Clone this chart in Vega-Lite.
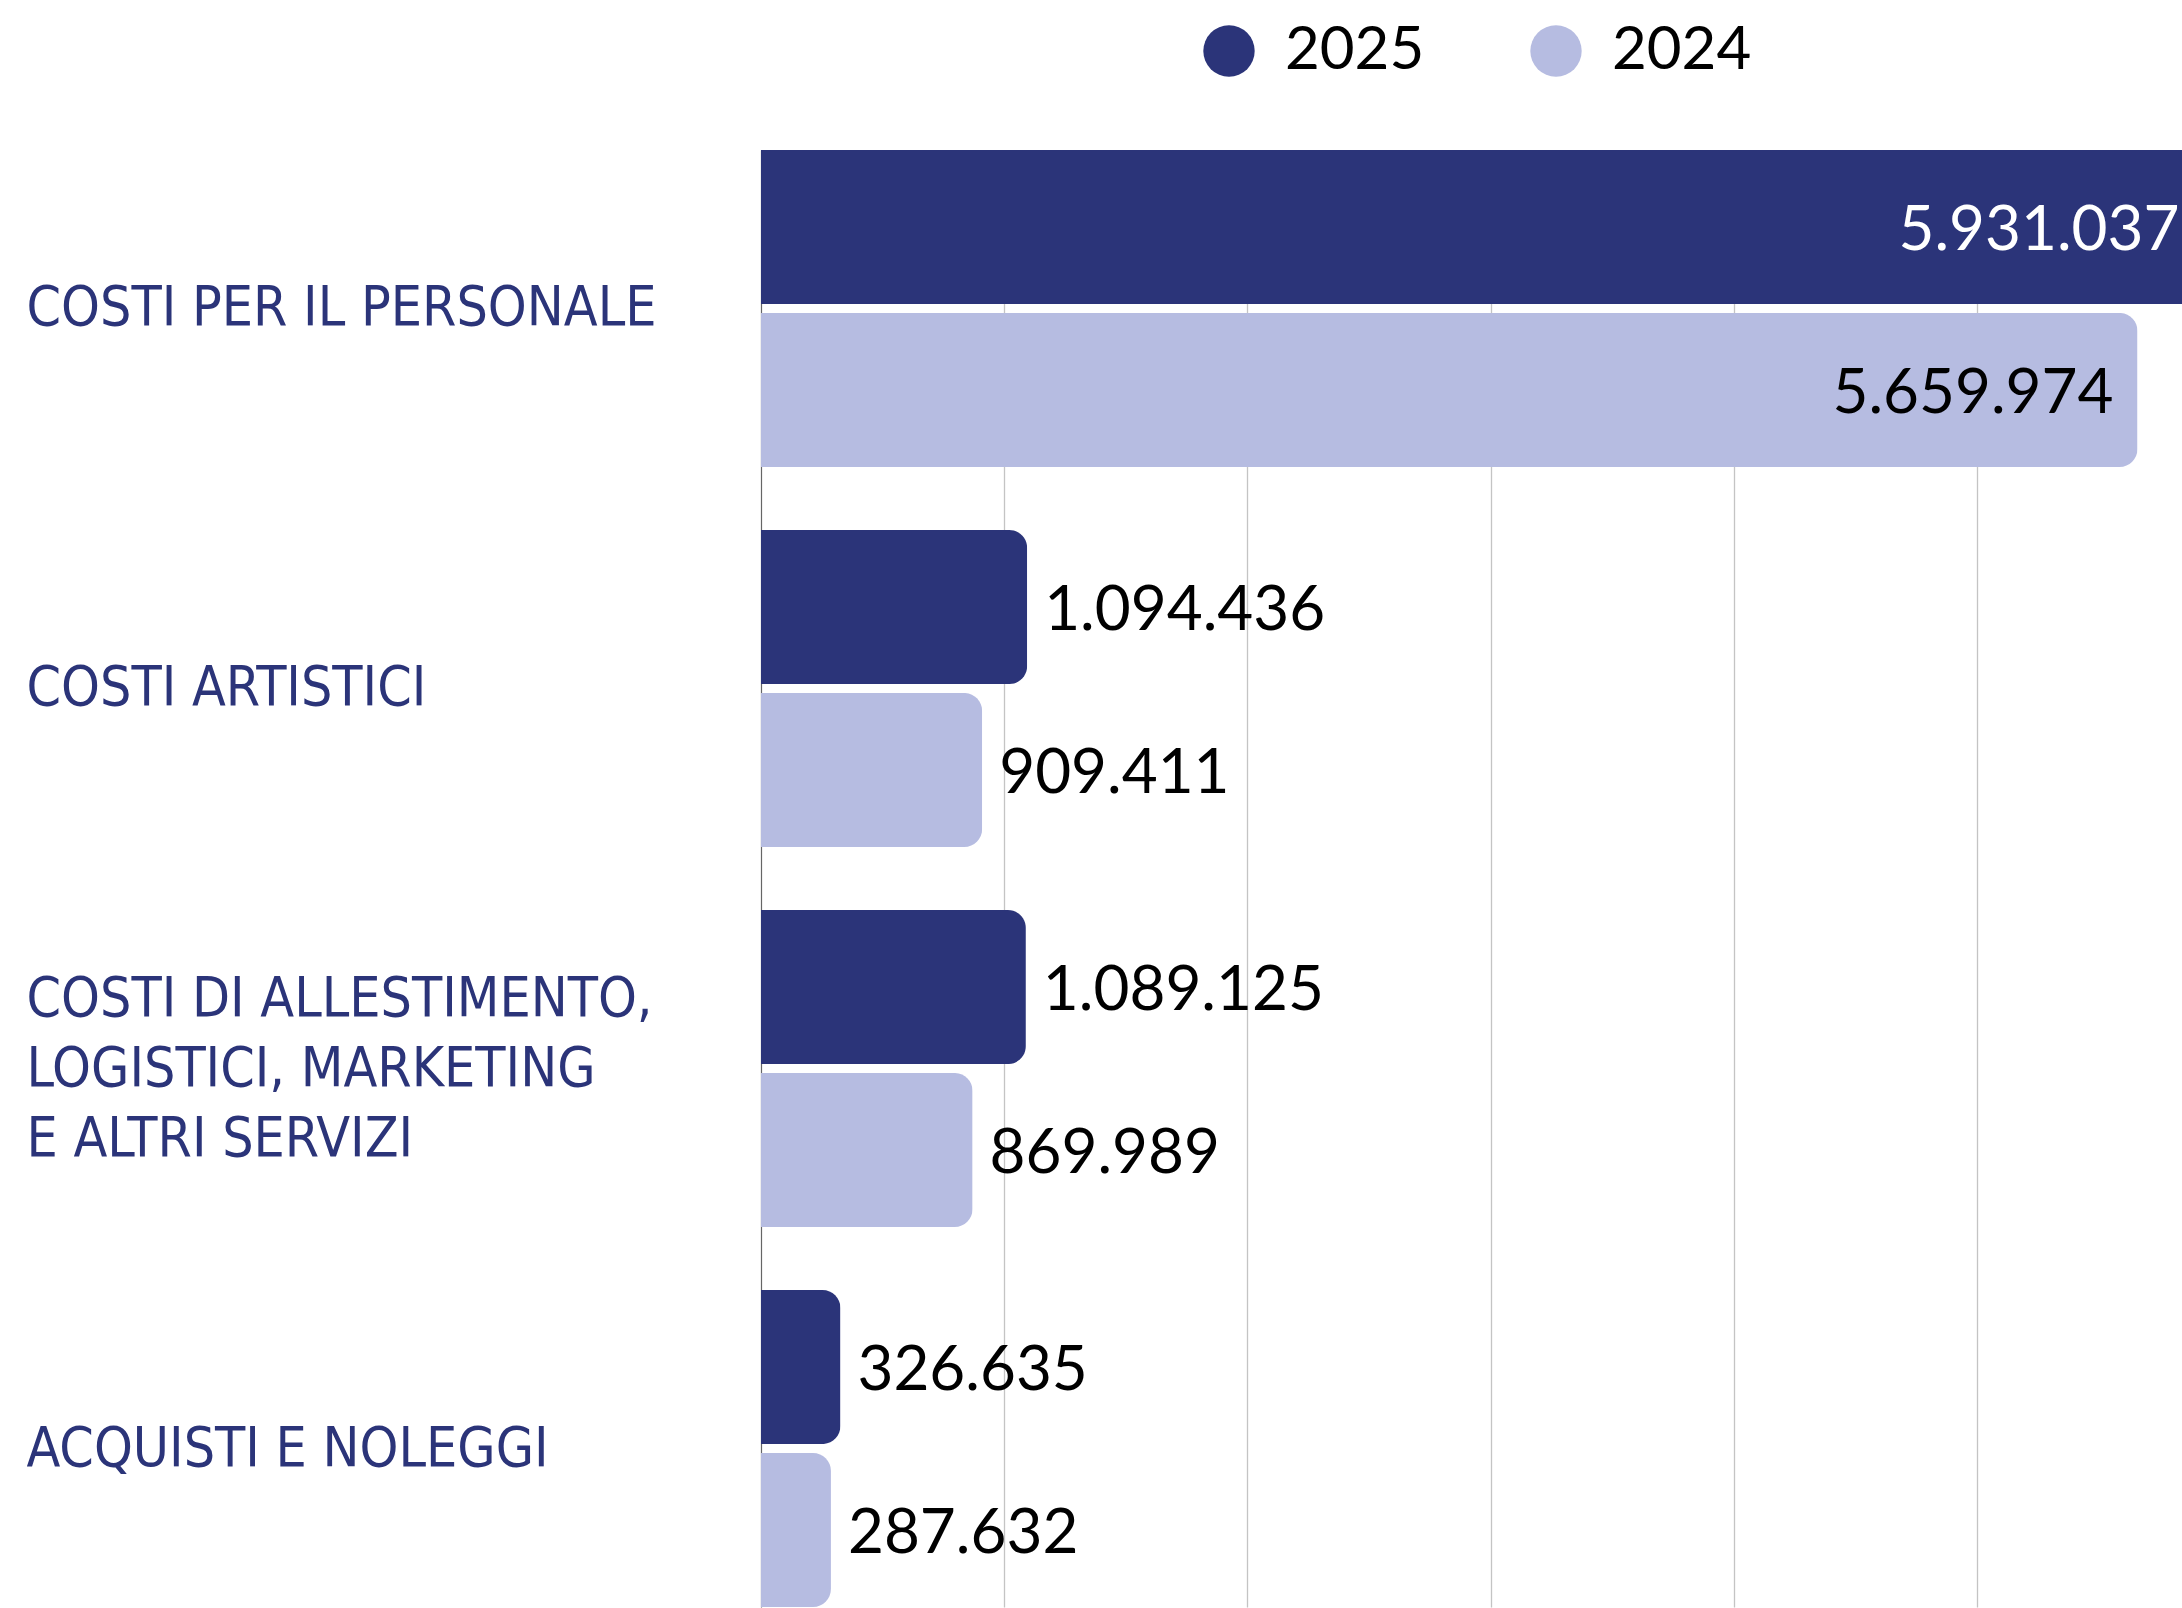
{
  "$schema": "https://vega.github.io/schema/vega-lite/v6.json",
  "autosize": {"type": "none"},
  "padding": {"left": 761, "top": 150, "right": 0, "bottom": 1},
  "width": 1421,
  "height": 1457,
  "background": "white",
  "config": {
    "view": {"stroke": null},
    "locale": {"number": {"decimal": ",", "thousands": ".", "grouping": [3], "currency": ["€", ""]}}
  },
  "data": {
    "values": [
      {"categoria": "COSTI PER IL PERSONALE", "anno": "2025", "valore": 5931037},
      {"categoria": "COSTI PER IL PERSONALE", "anno": "2024", "valore": 5659974},
      {"categoria": "COSTI ARTISTICI", "anno": "2025", "valore": 1094436},
      {"categoria": "COSTI ARTISTICI", "anno": "2024", "valore": 909411},
      {"categoria": "COSTI DI ALLESTIMENTO,|LOGISTICI, MARKETING|E ALTRI SERVIZI", "anno": "2025", "valore": 1089125},
      {"categoria": "COSTI DI ALLESTIMENTO,|LOGISTICI, MARKETING|E ALTRI SERVIZI", "anno": "2024", "valore": 869989},
      {"categoria": "ACQUISTI E NOLEGGI", "anno": "2025", "valore": 326635},
      {"categoria": "ACQUISTI E NOLEGGI", "anno": "2024", "valore": 287632}
    ]
  },
  "encoding": {
    "y": {
      "field": "categoria",
      "type": "nominal",
      "sort": ["COSTI PER IL PERSONALE", "COSTI ARTISTICI", "COSTI DI ALLESTIMENTO,|LOGISTICI, MARKETING|E ALTRI SERVIZI", "ACQUISTI E NOLEGGI"],
      "scale": {"paddingInner": 0.166, "paddingOuter": 0},
      "axis": {
        "title": null,
        "ticks": false,
        "tickSize": 0,
        "labelAlign": "left",
        "labelBaseline": "middle",
        "labelPadding": 735,
        "labelLimit": 900,
        "labelFont": "'DejaVu Sans Condensed', 'Roboto Condensed', 'Open Sans Condensed', Roboto",
        "labelFontSize": 55,
        "labelColor": "#2b3479",
        "labelLineHeight": 70,
        "labelOffset": {"condition": {"test": "indexof(datum.value, '|') >= 0", "value": -70}, "value": 0},
        "labelExpr": "split(datum.label, '|')",
        "domainColor": "#666666",
        "domainWidth": 1.2,
        "grid": false
      }
    },
    "yOffset": {
      "field": "anno",
      "type": "nominal",
      "sort": ["2025", "2024"],
      "scale": {"paddingInner": 0.055, "paddingOuter": 0}
    },
    "x": {
      "field": "valore",
      "type": "quantitative",
      "scale": {"domain": [0, 5843000], "nice": false},
      "axis": {
        "title": null,
        "labels": false,
        "ticks": false,
        "domain": false,
        "grid": true,
        "gridColor": "#c4c4c4",
        "gridWidth": 1.3,
        "values": [1000000, 2000000, 3000000, 4000000, 5000000]
      }
    }
  },
  "layer": [
    {
      "mark": {"type": "bar", "cornerRadiusEnd": 18},
      "encoding": {
        "color": {
          "field": "anno",
          "type": "nominal",
          "sort": ["2025", "2024"],
          "scale": {"domain": ["2025", "2024"], "range": ["#2b3479", "#b6bce1"]},
          "legend": {
            "title": null,
            "orient": "none",
            "legendX": 438,
            "legendY": -129,
            "direction": "horizontal",
            "symbolType": "circle",
            "symbolSize": 2640,
            "symbolStrokeWidth": 0,
            "symbolOpacity": 1,
            "labelFont": "Lato",
            "labelFontSize": 60,
            "labelColor": "black",
            "labelOffset": 26,
            "columnPadding": 101,
            "padding": 0
          }
        }
      }
    },
    {
      "transform": [{"filter": "datum.valore < 5000000"}],
      "mark": {"type": "text", "align": "left", "baseline": "middle", "dx": 17, "dy": 4, "font": "Lato", "fontSize": 62, "color": "black"},
      "encoding": {
        "text": {"field": "valore", "type": "quantitative", "format": ",d"}
      }
    },
    {
      "transform": [{"filter": "datum.valore >= 5000000"}],
      "mark": {"type": "text", "align": "right", "baseline": "middle", "dx": -24, "dy": 4, "font": "Lato", "fontSize": 62},
      "encoding": {
        "text": {"field": "valore", "type": "quantitative", "format": ",d"},
        "color": {"condition": {"test": "datum.anno === '2025'", "value": "white"}, "value": "black"}
      }
    }
  ]
}
